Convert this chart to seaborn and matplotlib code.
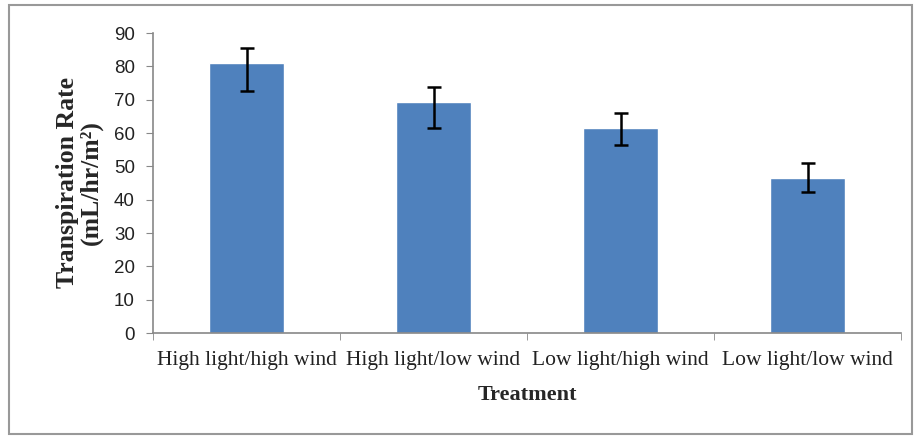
import matplotlib
matplotlib.use("Agg")
import matplotlib.pyplot as plt
import seaborn as sns
import pandas as pd
import numpy as np
from matplotlib.patches import Rectangle

treatments = ["High light/high wind", "High light/low wind",
              "Low light/high wind", "Low light/low wind"]
rate = [81.0, 69.2, 61.5, 46.5]
err_low = [8.3, 7.7, 5.2, 4.3]
err_high = [4.6, 4.6, 4.6, 4.6]
y_ticks = [0, 10, 20, 30, 40, 50, 60, 70, 80, 90]

df = pd.DataFrame({"Treatment": treatments, "Rate": rate})

sns.set_style("white")
fig = plt.figure(figsize=(9.19, 4.37), dpi=100)
ax = fig.add_axes([153 / 919, 104 / 437, 748 / 919, 300 / 437])

sns.barplot(data=df, x="Treatment", y="Rate", color="#4F81BD",
            saturation=1, width=0.4, ax=ax)
ax.errorbar(np.arange(len(rate)), rate, yerr=[err_low, err_high],
            fmt="none", ecolor="black", elinewidth=1.8, capsize=5,
            capthick=1.8)

ax.set_xlim(-0.5, 3.5)
ax.set_ylim(0, 90)
ax.set_yticks(y_ticks)
ax.set_yticklabels([str(v) for v in y_ticks], family="Liberation Sans",
                   fontsize=13.5, color="#222222")
ax.set_xticks(np.arange(len(treatments)))
ax.set_xticklabels(treatments, family="Liberation Serif", fontsize=15.5,
                   color="#222222")
ax.set_xticks(np.arange(-0.5, 4.0, 1.0), minor=True)
ax.tick_params(axis="x", which="major", length=0, pad=13)
ax.tick_params(axis="x", which="minor", length=5, color="#888888",
               direction="out", bottom=True)
ax.tick_params(axis="y", length=5, color="#888888", direction="out",
               left=True, pad=8)

for s in ["top", "right"]:
    ax.spines[s].set_visible(False)
for s in ["left", "bottom"]:
    ax.spines[s].set_color("#888888")
    ax.spines[s].set_linewidth(1.2)

ax.set_xlabel("Treatment", family="Liberation Serif", fontweight="bold",
              fontsize=16, labelpad=11)
ax.set_ylabel("Transpiration Rate\n(mL/hr/m²)", family="Liberation Serif",
              fontweight="bold", fontsize=18.5, labelpad=8, linespacing=1.05)

fig.patches.append(Rectangle((9 / 919, 3 / 437), 903 / 919, 429 / 437,
                             transform=fig.transFigure, fill=False,
                             edgecolor="#999999", linewidth=1.5))

fig.savefig("out.png", dpi=100)
